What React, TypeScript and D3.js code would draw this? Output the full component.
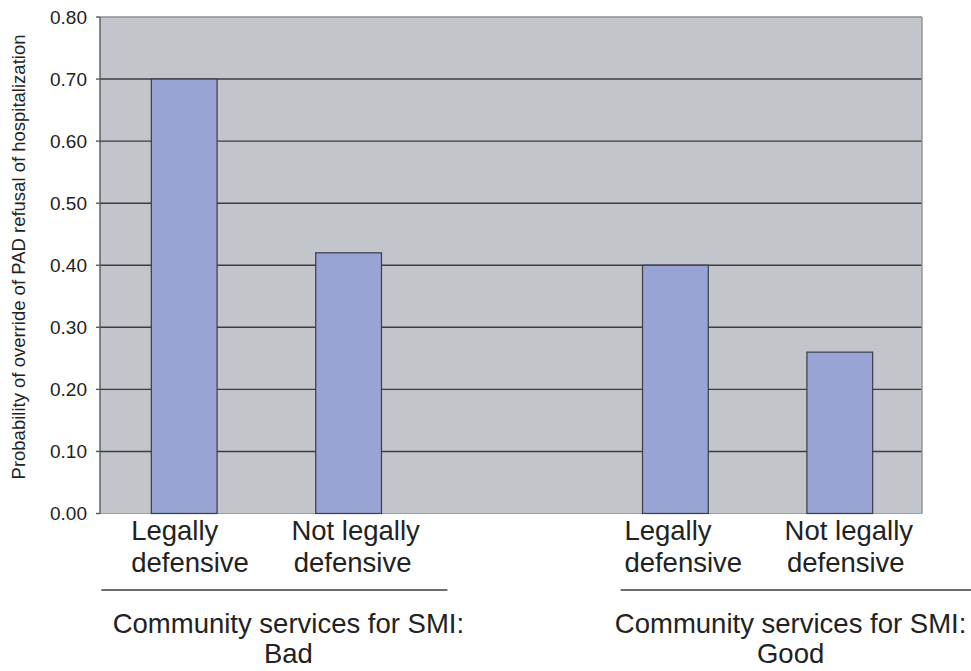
import React from "react";
import * as d3 from "d3";

const categories = ["Bad|Legally defensive", "Bad|Not legally defensive", "gap", "Good|Legally defensive", "Good|Not legally defensive"];
const values: (number | null)[] = [0.70, 0.42, null, 0.40, 0.26];
const labelLines: string[][] = [["Legally", "defensive"], ["Not legally", "defensive"], [], ["Legally", "defensive"], ["Not legally", "defensive"]];
const groupLabels: string[][] = [["Community services for SMI:", "Bad"], ["Community services for SMI:", "Good"]];
const yTicks = [0, 0.1, 0.2, 0.3, 0.4, 0.5, 0.6, 0.7, 0.8];
const yTitle = "Probability of override of PAD refusal of hospitalization";

export default function App() {
  const W = 971, H = 671;
  const left = 100, right = 922, top = 17, bottom = 513.5;
  const x = d3.scaleBand<string>().domain(categories).range([left, right]).paddingInner(0.6).paddingOuter(0.3);
  const y = d3.scaleLinear().domain([0, 0.8]).range([bottom, top]);
  const font = "'Liberation Sans', Arial, Helvetica, sans-serif";
  const bw = x.bandwidth();
  const cx = (c: string) => (x(c) as number) + bw / 2;
  const g1 = (cx(categories[0]) + cx(categories[1])) / 2;
  const g2 = (cx(categories[3]) + cx(categories[4])) / 2;
  return (
    <svg width={W} height={H} style={{ position: "absolute", left: 0, top: 0 }} fontFamily={font}>
      <rect x={left} y={top} width={right - left} height={bottom - top} fill="#c2c5c9" />
      {yTicks.slice(1, -1).map((t) => (
        <line key={"g" + t} x1={left} x2={right} y1={y(t)} y2={y(t)} stroke="#3a3d42" strokeWidth={1.4} />
      ))}
      <line x1={left} x2={right} y1={y(0.8)} y2={y(0.8)} stroke="#8d9095" strokeWidth={1.4} />
      <line x1={right} x2={right} y1={top} y2={bottom} stroke="#8d9095" strokeWidth={1.4} />
      <line x1={left} x2={right} y1={bottom} y2={bottom} stroke="#9a9da2" strokeWidth={1} />
      <line x1={left} x2={left} y1={top} y2={bottom} stroke="#55585d" strokeWidth={1.4} />
      {yTicks.map((t) => (
        <g key={"t" + t}>
          <line x1={left - 4} x2={left} y1={y(t)} y2={y(t)} stroke="#55585d" strokeWidth={1.4} />
          <text x={87} y={y(t)} dy="0.36em" textAnchor="end" fontSize={19} fill="#222">{t.toFixed(2)}</text>
        </g>
      ))}
      {categories.map((c, i) =>
        values[i] == null ? null : (
          <rect key={c} x={(x(c) as number) + (i < 2 ? 2 : 0)} y={y(values[i] as number)} width={bw} height={bottom - y(values[i] as number)}
            fill="#99a4d4" stroke="#3a3d48" strokeWidth={1.2} />
        )
      )}
      {categories.map((c, i) =>
        labelLines[i].length === 0 ? null : (
          <g key={"l" + c}>
            {labelLines[i][0] === "Legally" ? (
              <>
                <text x={cx(c) - 51} y={540} fontSize={27.5} fill="#222">{labelLines[i][0]}</text>
                <text x={cx(c) - 51} y={572} fontSize={27.5} fill="#222">{labelLines[i][1]}</text>
              </>
            ) : (
              <>
                <text x={cx(c) + 9} y={540} fontSize={27.5} textAnchor="middle" fill="#222">{labelLines[i][0]}</text>
                <text x={cx(c) + 6} y={572} fontSize={27.5} textAnchor="middle" fill="#222">{labelLines[i][1]}</text>
              </>
            )}
          </g>
        )
      )}
      <line x1={g1 - 163} x2={g1 + 183} y1={590} y2={590} stroke="#3a3d42" strokeWidth={1.4} />
      <line x1={g2 - 137} x2={W} y1={590} y2={590} stroke="#3a3d42" strokeWidth={1.4} />
      {[g1 + 24, g2 + 33].map((gx, i) => (
        <g key={"gl" + i}>
          <text x={gx} y={633} fontSize={27.5} textAnchor="middle" fill="#222">{groupLabels[i][0]}</text>
          <text x={gx} y={663} fontSize={27.5} textAnchor="middle" fill="#222">{groupLabels[i][1]}</text>
        </g>
      ))}
      <text transform={`translate(25,257) rotate(-90)`} textAnchor="middle" fontSize={18.5} fill="#222">{yTitle}</text>
    </svg>
  );
}
